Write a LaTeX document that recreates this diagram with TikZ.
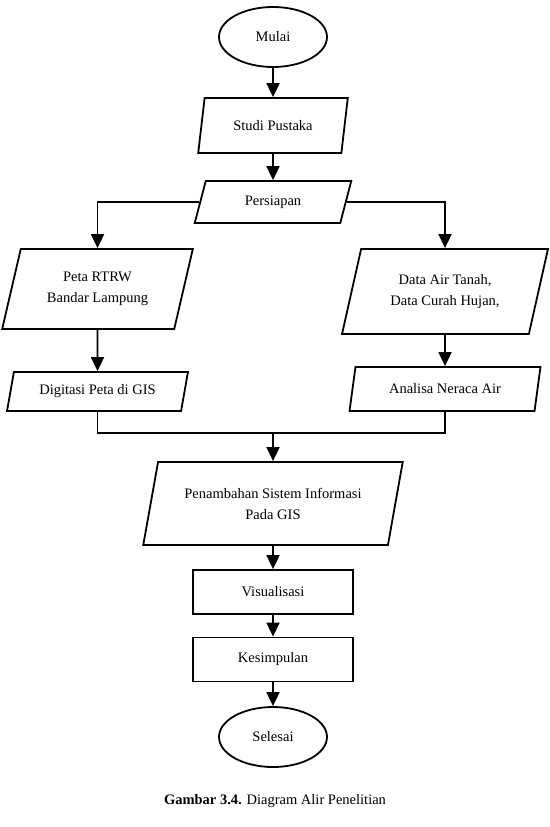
\documentclass[tikz,border=0pt]{standalone}
\usepackage{fontspec}
\setmainfont{Liberation Serif}
\usetikzlibrary{shapes.geometric,arrows.meta}
\tikzset{>={Triangle[length=14pt,width=13pt]}}

\begin{document}
\begin{tikzpicture}[x=1pt,y=-1pt,line width=1.8pt,
    every node/.style={font=\fontsize{14.5}{21}\selectfont,align=center,inner sep=0pt},
    terminal/.style={draw,ellipse,minimum width=108pt,minimum height=60pt},
    datain/.style={draw,trapezium,trapezium left angle=70,trapezium right angle=110,trapezium stretches=true},
    process/.style={draw,rectangle,minimum width=160pt,minimum height=44pt}]
  \useasboundingbox (0,0) rectangle (549,827);
  \node[terminal] (mulai) at (273,37) {Mulai};
  \node[datain,minimum width=150pt,minimum height=55pt] (studi) at (273,125.5) {Studi Pustaka};
  \node[datain,minimum width=157pt,minimum height=42pt] (persiapan) at (273,202) {Persiapan};
  \node[datain,minimum width=191pt,minimum height=80pt] (peta) at (97.5,289) {Peta RTRW\\Bandar Lampung};
  \node[datain,minimum width=181pt,minimum height=39pt] (digitasi) at (97.5,391.5) {Digitasi Peta di GIS};
  \node[datain,minimum width=206pt,minimum height=85pt] (dataair) at (445,291.5) {Data Air Tanah,\\Data Curah Hujan,};
  \node[datain,minimum width=191pt,minimum height=44pt] (analisa) at (445,389) {Analisa Neraca Air};
  \coordinate (gabung) at (273,433);
  \node[datain,minimum width=260pt,minimum height=83pt] (sig) at (273,503.5) {Penambahan Sistem Informasi\\Pada GIS};
  \node[process] (visual) at (273,592) {Visualisasi};
  \node[process] (simpul) at (273,659.5) {Kesimpulan};
  \node[terminal] (selesai) at (273,737) {Selesai};
  % alur
  \draw[->] (mulai) -- (studi);
  \draw[->] (studi) -- (persiapan);
  \draw[->] (persiapan.west) -| (peta.north);
  \draw[->] (persiapan.east) -| (dataair.north);
  \draw[->] (peta) -- (digitasi);
  \draw[->] (dataair) -- (analisa);
  \draw (digitasi.south) |- (gabung) -| (analisa.south);
  \draw[->] (gabung) -- (sig);
  \draw[->] (sig) -- (visual);
  \draw[->] (visual) -- (simpul);
  \draw[->] (simpul) -- (selesai);
  \node (judul) at (275,801) {\textbf{Gambar 3.4.} Diagram Alir Penelitian};
\end{tikzpicture}
\end{document}
